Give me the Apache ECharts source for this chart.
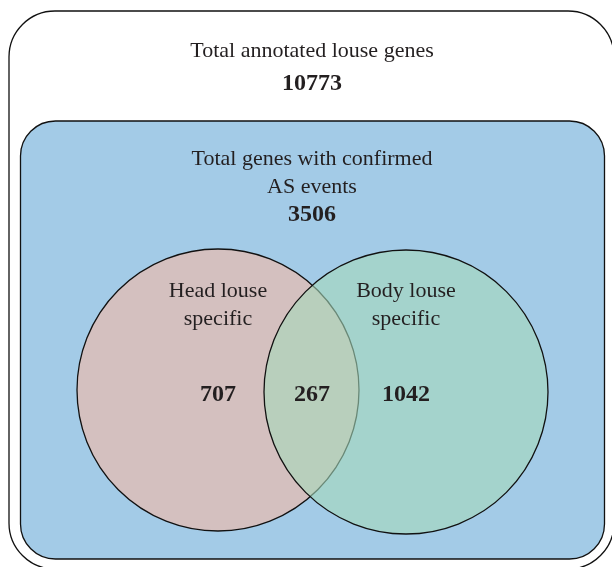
<!DOCTYPE html>
<html>
<head>
<meta charset="utf-8">
<script src="https://cdn.jsdelivr.net/npm/echarts@6/dist/echarts.min.js"></script>
<style>
  html, body { margin: 0; padding: 0; background: #fff; }
  #main { width: 612px; height: 567px; }
</style>
</head>
<body>
<div id="main"></div>
<script>
// chart values
var boxTitles = ['Total annotated louse genes', 'Total genes with confirmed\nAS events'];
var boxTotals = [10773, 3506];
var setNames = ['Head louse\nspecific', 'Body louse\nspecific'];
var setOnly = [707, 1042];
var shared = 267;

// layout, in page units of the hidden axes
var boxLayout = [
  { x: 9, y: 11, w: 605, h: 558, r: 46, fill: '#ffffff', titleY: 51, countY: 84 },
  { x: 20.5, y: 121, w: 584, h: 438, r: 35, fill: '#a3cbe7', titleY: 173, countY: 215 }
];
var circleLayout = [
  { cx: 218, cy: 390, r: 141, fill: '#d4c0bf' },
  { cx: 406, cy: 392, r: 142, fill: 'rgba(165,216,186,0.6)' }
];

var textColor = '#231f20';
var font = '"Liberation Serif", "Times New Roman", serif';

function txt(x, y, text, size, weight, lh) {
  return {
    type: 'text',
    style: {
      text: text, x: x, y: y, fill: textColor,
      fontFamily: font, fontSize: size, fontWeight: weight,
      align: 'center', verticalAlign: 'middle', lineHeight: lh || size
    }
  };
}

var myChart = echarts.init(document.getElementById('main'));
var option = {
  animation: false,
  grid: { left: 0, right: 0, top: 0, bottom: 0 },
  xAxis: { type: 'value', min: 0, max: 612, show: false },
  yAxis: { type: 'value', min: 0, max: 567, inverse: true, show: false },
  series: [
    {
      name: 'boxes',
      type: 'custom',
      clip: false,
      data: boxTotals.map(function (v, i) { return [i, v]; }),
      renderItem: function (params, api) {
        var i = api.value(0);
        var b = boxLayout[i];
        var p = api.coord([b.x, b.y]);
        var s = api.size([b.w, b.h]);
        var c = api.coord([312, 0]);
        return {
          type: 'group',
          children: [
            {
              type: 'rect',
              shape: { x: p[0], y: p[1], width: s[0], height: s[1], r: b.r },
              style: { fill: b.fill, stroke: '#111', lineWidth: 1.3 }
            },
            txt(c[0], api.coord([0, b.titleY])[1], boxTitles[i], 22, 'normal', 28),
            txt(c[0], api.coord([0, b.countY])[1], String(api.value(1)), 24, 'bold')
          ]
        };
      }
    },
    {
      name: 'sets',
      type: 'custom',
      data: setOnly.map(function (v, i) { return [i, v]; }),
      renderItem: function (params, api) {
        var i = api.value(0);
        var c = circleLayout[i];
        var p = api.coord([c.cx, c.cy]);
        var r = api.size([c.r, 0])[0];
        return {
          type: 'group',
          children: [
            {
              type: 'circle',
              shape: { cx: p[0], cy: p[1], r: r },
              style: { fill: c.fill, stroke: '#111', lineWidth: 1.3 }
            },
            txt(p[0], api.coord([0, 305])[1], setNames[i], 22, 'normal', 28),
            txt(p[0], api.coord([0, 395])[1], String(api.value(1)), 24, 'bold')
          ]
        };
      }
    },
    {
      name: 'shared',
      type: 'custom',
      data: [[shared]],
      renderItem: function (params, api) {
        var mx = (circleLayout[0].cx + circleLayout[1].cx) / 2;
        var p = api.coord([mx, 395]);
        return txt(p[0], p[1], String(api.value(0)), 24, 'bold');
      }
    }
  ]
};
myChart.setOption(option);
</script>
</body>
</html>
